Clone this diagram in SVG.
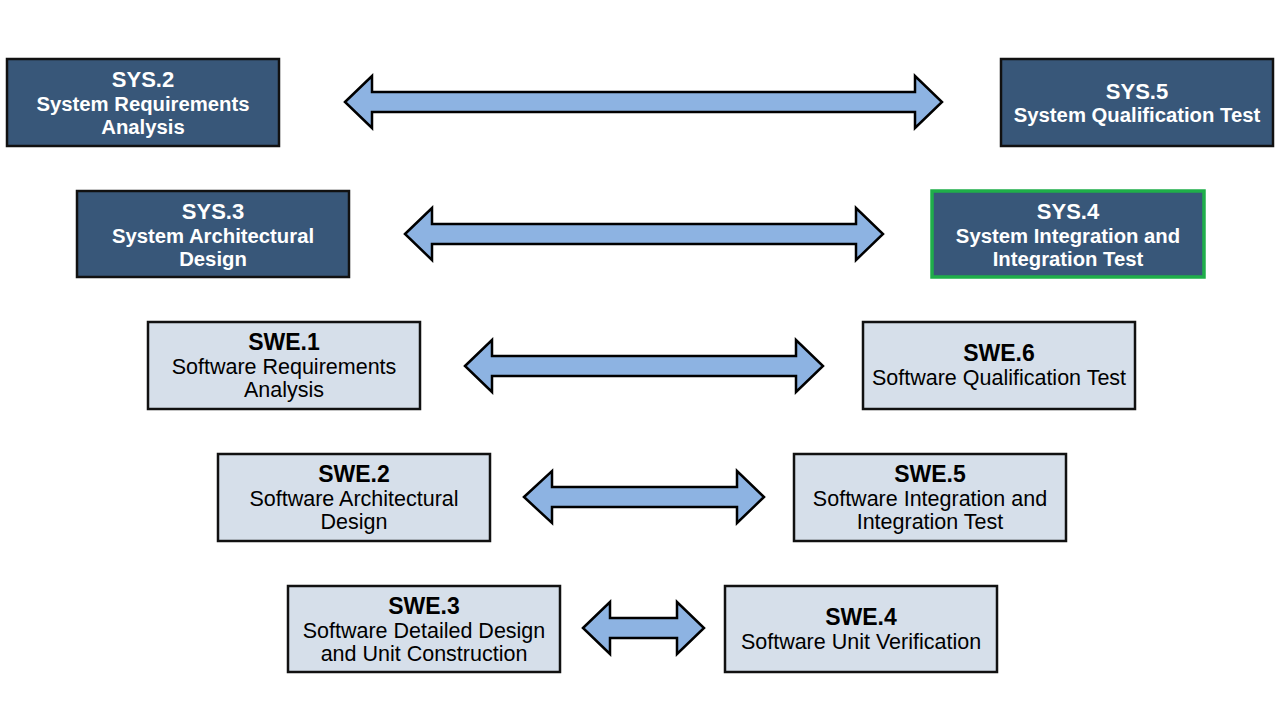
<svg xmlns="http://www.w3.org/2000/svg" width="1280" height="720" viewBox="0 0 1280 720">
<style>
.dk rect{fill:#385779;stroke:#111;stroke-width:2.5}
.lt rect{fill:#d6dfea;stroke:#111;stroke-width:2.5}
.hl rect{stroke:#1fae4a;stroke-width:3.5}
text{font-family:"Liberation Sans",Arial,sans-serif;text-anchor:middle}
.dk text{fill:#fff;font-weight:bold;font-size:20.3px}
.dk .t{font-size:22px}
.lt text{fill:#000;font-size:21.5px}
.lt .t{font-size:23px;font-weight:bold}
.ar{fill:#8db3e2;stroke:#000;stroke-width:2.5;stroke-linejoin:miter}
</style>
<rect width="1280" height="720" fill="#fff"/>
<g id="connectors">
<polygon class="ar" points="345,102 372,76 372,92 915,92 915,76 942,102 915,128 915,112 372,112 372,128"/>
<polygon class="ar" points="405,234 432,208 432,224 856,224 856,208 883,234 856,260 856,244 432,244 432,260"/>
<polygon class="ar" points="465,366 492,340 492,356 796,356 796,340 823,366 796,392 796,376 492,376 492,392"/>
<polygon class="ar" points="524,497 552,471 552,487 737,487 737,471 764,497 737,523 737,507 552,507 552,523"/>
<polygon class="ar" points="583,628 610,602 610,618 677,618 677,602 704,628 677,654 677,638 610,638 610,654"/>
</g>
<g id="sys2" class="dk"><rect x="7" y="59" width="272" height="87"/>
<text class="t" x="143" y="87">SYS.2</text><text x="143" y="111">System Requirements</text><text x="143" y="134">Analysis</text></g>
<g id="sys5" class="dk"><rect x="1001" y="59" width="272" height="87"/>
<text class="t" x="1137" y="99">SYS.5</text><text x="1137" y="122">System Qualification Test</text></g>
<g id="sys3" class="dk"><rect x="77" y="191" width="272" height="86"/>
<text class="t" x="213" y="219">SYS.3</text><text x="213" y="243">System Architectural</text><text x="213" y="266">Design</text></g>
<g id="sys4" class="dk hl"><rect x="932" y="191" width="272" height="86"/>
<text class="t" x="1068" y="219">SYS.4</text><text x="1068" y="243">System Integration and</text><text x="1068" y="266">Integration Test</text></g>
<g id="swe1" class="lt"><rect x="148" y="322" width="272" height="87"/>
<text class="t" x="284" y="350">SWE.1</text><text x="284" y="374">Software Requirements</text><text x="284" y="397">Analysis</text></g>
<g id="swe6" class="lt"><rect x="863" y="322" width="272" height="87"/>
<text class="t" x="999" y="361">SWE.6</text><text x="999" y="385">Software Qualification Test</text></g>
<g id="swe2" class="lt"><rect x="218" y="454" width="272" height="87"/>
<text class="t" x="354" y="482">SWE.2</text><text x="354" y="506">Software Architectural</text><text x="354" y="529">Design</text></g>
<g id="swe5" class="lt"><rect x="794" y="454" width="272" height="87"/>
<text class="t" x="930" y="482">SWE.5</text><text x="930" y="506">Software Integration and</text><text x="930" y="529">Integration Test</text></g>
<g id="swe3" class="lt"><rect x="288" y="586" width="272" height="86"/>
<text class="t" x="424" y="614">SWE.3</text><text x="424" y="638">Software Detailed Design</text><text x="424" y="661">and Unit Construction</text></g>
<g id="swe4" class="lt"><rect x="725" y="586" width="272" height="86"/>
<text class="t" x="861" y="625">SWE.4</text><text x="861" y="649">Software Unit Verification</text></g>
</svg>
